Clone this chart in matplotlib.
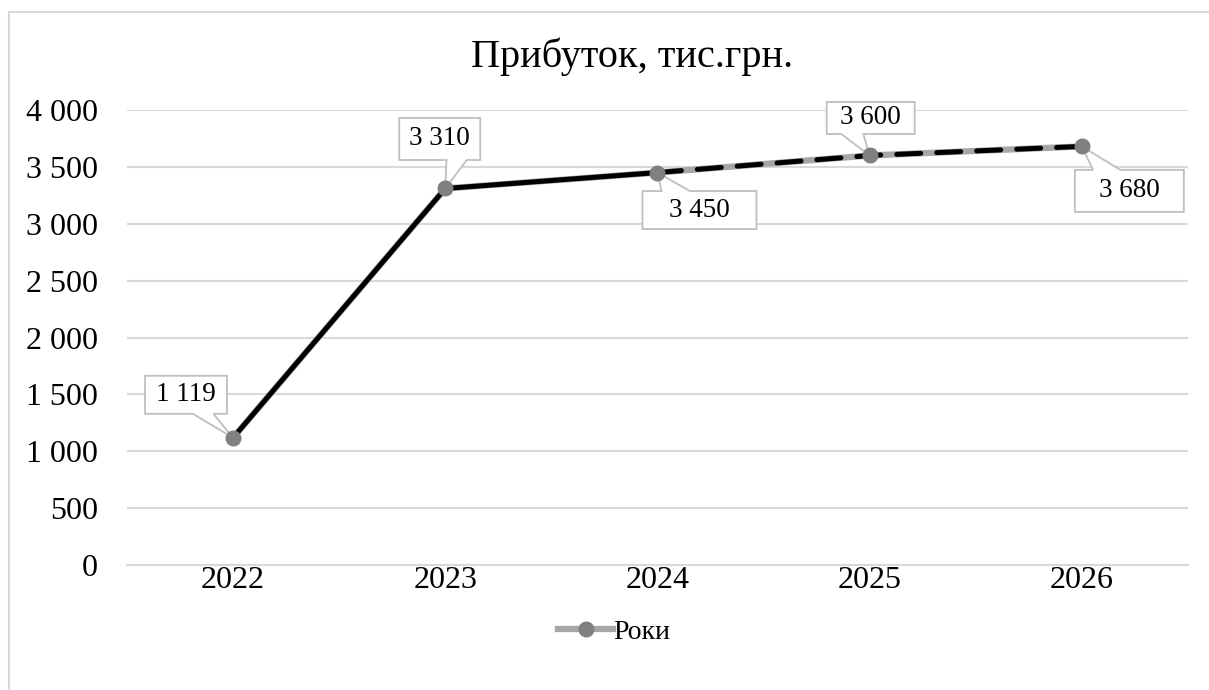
import matplotlib.pyplot as plt
from matplotlib.lines import Line2D
from matplotlib.patches import Rectangle, Polygon
from matplotlib.transforms import IdentityTransform
from matplotlib.ticker import FuncFormatter

# data
years = ['2022', '2023', '2024', '2025', '2026']
profit = [1119, 3310, 3450, 3600, 3680]
labels = ['1 119', '3 310', '3 450', '3 600', '3 680']
series_name = 'Роки'
title = 'Прибуток, тис.грн.'
yticks = [0, 500, 1000, 1500, 2000, 2500, 3000, 3500, 4000]

# callout boxes: centre offset from the point and box size, in pixels (y up)
box_offsets = [(-47, 43), (-5.5, 49.5), (42, -37.5), (1, 37.5), (47.5, -44.5)]
box_sizes = [(82, 38), (81, 42), (114, 38), (88, 32), (109, 42)]

plt.rcParams['font.family'] = ['Liberation Serif', 'DejaVu Serif']

fig = plt.figure(figsize=(12.09, 6.9), dpi=100)
ax = fig.add_axes([0.105, 0.181, 0.8776, 0.6596])

x = list(range(len(years)))
grid_c = '#D9D9D9'
gray_line = '#A6A6A6'
marker_c = '#808080'
box_c = '#BFBFBF'


def callout_poly(dx, dy, w, h):
    '''Excel-like wedge callout, apex at (0, 0)'''
    l, r, b, t = dx - w / 2, dx + w / 2, dy - h / 2, dy + h / 2
    if abs(dy) / h >= abs(dx) / w:
        if -dx > 0:
            x1, x2 = l + w * 7 / 12, l + w * 10 / 12
        else:
            x1, x2 = l + w * 2 / 12, l + w * 5 / 12
        if dy > 0:  # box above point -> wedge on bottom edge
            return [(l, b), (x1, b), (0, 0), (x2, b), (r, b), (r, t), (l, t)]
        return [(l, b), (r, b), (r, t), (x2, t), (0, 0), (x1, t), (l, t)]
    if -dy > 0:
        y1, y2 = b + h * 7 / 12, b + h * 10 / 12
    else:
        y1, y2 = b + h * 2 / 12, b + h * 5 / 12
    if dx < 0:  # box left of point -> wedge on right edge
        return [(l, b), (r, b), (r, y1), (0, 0), (r, y2), (r, t), (l, t)]
    return [(l, b), (r, b), (r, t), (l, t), (l, y2), (0, 0), (l, y1)]


ax.set_xlim(-0.5, len(years) - 0.5)
ax.set_ylim(0, 4000)

ax.plot(x, profit, color=gray_line, lw=4.5, zorder=3, solid_capstyle='butt')
ax.plot(x[:3], profit[:3], color='black', lw=3.6, zorder=4, solid_capstyle='round')
ax.plot(x[2:], profit[2:], color='black', lw=3.6, zorder=4,
        linestyle=(0, (4.8, 3.2)), dash_capstyle='round')
ax.plot(x, profit, linestyle='none', marker='o', markersize=10.5,
        color=marker_c, zorder=6)

for xi, yi, txt, off, size in zip(x, profit, labels, box_offsets, box_sizes):
    px, py = ax.transData.transform((xi, yi))
    pts = [(px + a, py + b) for a, b in callout_poly(off[0], off[1], size[0], size[1])]
    ax.add_patch(Polygon(pts, closed=True, fc='white', ec=box_c, lw=1.3,
                         transform=IdentityTransform(), clip_on=False, zorder=5))
    ax.annotate(txt, xy=(xi, yi), xytext=off, textcoords='offset pixels',
                ha='center', va='center', fontsize=19.5, zorder=7)

ax.set_xticks(x)
ax.set_xticklabels(years)
ax.set_yticks(yticks)
ax.yaxis.set_major_formatter(FuncFormatter(lambda v, p: f'{int(v):,}'.replace(',', ' ')))
ax.tick_params(axis='both', length=0, labelsize=23)
ax.tick_params(axis='y', pad=21)
ax.tick_params(axis='x', pad=1)
ax.grid(axis='y', color=grid_c, lw=1.5, zorder=0)
ax.set_axisbelow(True)
for s in ['top', 'right', 'left']:
    ax.spines[s].set_visible(False)
ax.spines['bottom'].set_color(grid_c)
ax.spines['bottom'].set_linewidth(1.5)

fig.text(0.5232, 1 - 67 / 690, title, ha='center', va='baseline', fontsize=29)

handle = Line2D([], [], color=gray_line, lw=4.5, marker='o', markersize=10.5,
                markerfacecolor=marker_c, markeredgecolor=marker_c)
fig.legend([handle], [series_name], loc='center', bbox_to_anchor=(0.508, 0.084),
           frameon=False, fontsize=20, handlelength=2.0, handletextpad=0.0)

# chart border
fig.patches.append(Rectangle((9 / 1209, -0.1), 1.2, 1 - 12 / 690 + 0.1,
                             transform=fig.transFigure, fill=False,
                             ec=grid_c, lw=1.5))

fig.savefig('out.png', dpi=100)
